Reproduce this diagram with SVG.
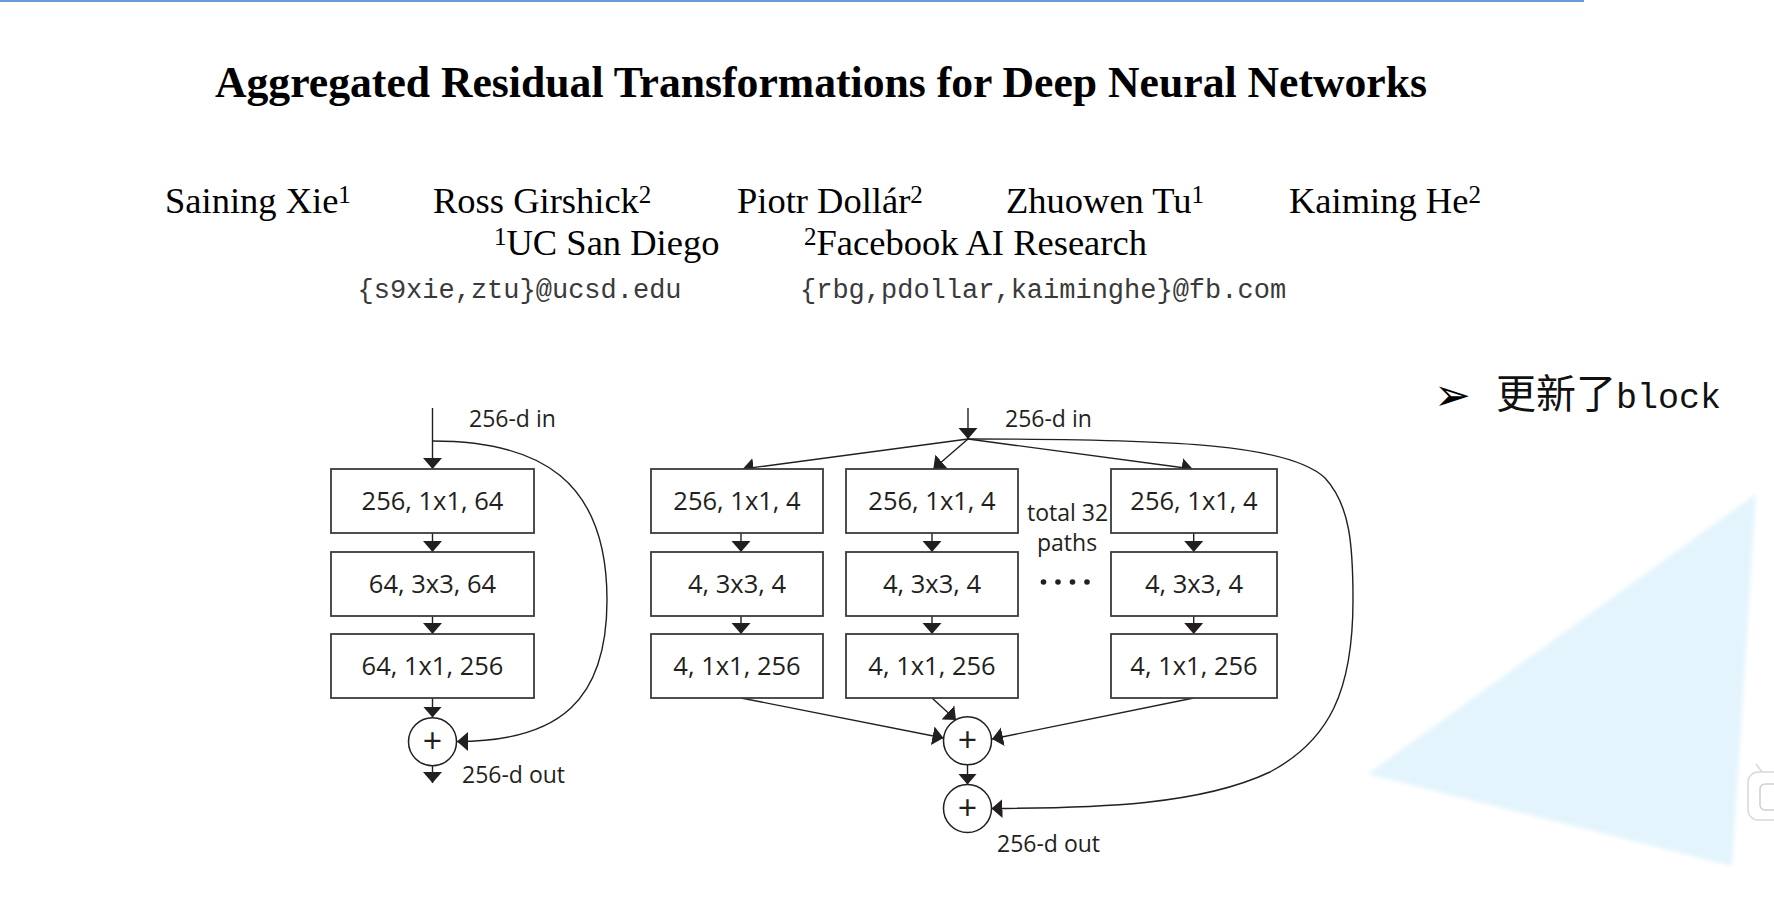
<svg xmlns="http://www.w3.org/2000/svg" width="1774" height="916" viewBox="0 0 1774 916">
<style>
.ser{font-family:"Liberation Serif","Times New Roman",serif;fill:#000}
.mono{font-family:"Liberation Mono","Courier New",monospace;font-size:27px;fill:#3a3a3a}
.lbl{font-family:"Open Sans","Noto Sans",sans-serif;font-size:23px;fill:#231f20}
.bt{font-family:"Open Sans","Noto Sans",sans-serif;font-size:25.5px;fill:#231f20;text-anchor:middle}
.box{fill:#fff;stroke:#3b3b3b;stroke-width:1.8}
.sum{fill:#fff;stroke:#231f20;stroke-width:1.5}
.plus{font-family:"Open Sans","Noto Sans",sans-serif;font-size:34px;fill:#231f20;text-anchor:middle}
.con{fill:none;stroke:#231f20;stroke-width:1.4;marker-end:url(#ah)}
</style>
<defs>
<marker id="ah" viewBox="-11 -10 12 20" markerWidth="12" markerHeight="20" refX="0" refY="0" orient="auto" markerUnits="userSpaceOnUse">
<path d="M0,0 L-11,-9.5 L-11,9.5 Z" fill="#231f20"/>
</marker>
<filter id="soft" x="-5%" y="-5%" width="110%" height="110%"><feGaussianBlur stdDeviation="2"/></filter>
</defs>
<rect width="1774" height="916" fill="#fff"/>
<line x1="0" y1="1" x2="1584" y2="1" stroke="#6b9ad8" stroke-width="2"/>
<polygon points="1756,494 1368,774 1732,866" fill="#e3f4fd" filter="url(#soft)"/>
<g id="corner-icon">
<rect x="1748" y="772" width="50" height="48" rx="10" fill="#fff" stroke="#d9d9d9" stroke-width="1.5"/>
<rect x="1760" y="784" width="30" height="26" rx="5" fill="none" stroke="#cfcfcf" stroke-width="1.5"/>
<line x1="1762" y1="772" x2="1756" y2="764" stroke="#d9d9d9" stroke-width="1.5"/>
</g>

<g id="header">
<text class="ser" x="215" y="97" font-size="45" font-weight="bold" textLength="1212" lengthAdjust="spacingAndGlyphs">Aggregated Residual Transformations for Deep Neural Networks</text>
<g font-size="36.5">
<text class="ser" x="165" y="213">Saining Xie<tspan font-size="25" dy="-10">1</tspan></text>
<text class="ser" x="433" y="213">Ross Girshick<tspan font-size="25" dy="-10">2</tspan></text>
<text class="ser" x="737" y="213">Piotr Dollár<tspan font-size="25" dy="-10">2</tspan></text>
<text class="ser" x="1006" y="213">Zhuowen Tu<tspan font-size="25" dy="-10">1</tspan></text>
<text class="ser" x="1289" y="213">Kaiming He<tspan font-size="25" dy="-10">2</tspan></text>
<text class="ser" x="494" y="255"><tspan font-size="25" dy="-10">1</tspan><tspan dy="10">UC San Diego</tspan></text>
<text class="ser" x="804" y="255"><tspan font-size="25" dy="-10">2</tspan><tspan dy="10">Facebook AI Research</tspan></text>
</g>
<text class="mono" x="357.5" y="298">{s9xie,ztu}@ucsd.edu</text>
<text class="mono" x="800" y="298">{rbg,pdollar,kaiminghe}@fb.com</text>
</g>

<g id="bullet">
<text x="1434" y="410" font-family="DejaVu Sans,sans-serif" font-size="44" fill="#000">➢</text>
<text x="1496" y="408" font-family="Noto Sans CJK SC,sans-serif" font-size="40" fill="#111">更新了<tspan font-family="Liberation Mono,monospace" font-size="35">block</tspan></text>
</g>

<g id="connectors">
<path class="con" d="M432.5,408 V469"/>
<path class="con" d="M432.5,533 V552"/>
<path class="con" d="M432.5,616 V634"/>
<path class="con" d="M432.5,698 V717.5"/>
<path class="con" d="M432.5,766 V783"/>
<path class="con" d="M432.5,441 C540,441 607,480 607,600 C607,700 560,741.5 457,741.5"/>

<path class="con" d="M968,408 V439"/>
<path class="con" d="M968,439 L742.7,469"/>
<path class="con" d="M968,439 L933.3,469"/>
<path class="con" d="M968,439 L1192.7,469"/>
<path class="con" d="M741,533 V552"/>
<path class="con" d="M741,616 V634"/>
<path class="con" d="M932,533 V552"/>
<path class="con" d="M932,616 V634"/>
<path class="con" d="M1193.7,533 V552"/>
<path class="con" d="M1193.7,616 V634"/>
<path class="con" d="M741,698 L943.5,738"/>
<path class="con" d="M932,698 L956,720"/>
<path class="con" d="M1193.7,698 L992,739"/>
<path class="con" d="M967.5,765 V784.5"/>
<path class="con" d="M968,439 C1180,439 1290,445 1325,478 C1350,505 1353,545 1353,600 C1353,690 1330,740 1270,772 C1200,805 1100,808 991.5,808.5"/>
</g>

<g id="left-in"><text class="lbl" x="469" y="427">256-d in</text></g>
<g id="left-b1"><rect class="box" x="331" y="469" width="203" height="64"/><text class="bt" x="432.5" y="510">256, 1x1, 64</text></g>
<g id="left-b2"><rect class="box" x="331" y="552" width="203" height="64"/><text class="bt" x="432.5" y="593">64, 3x3, 64</text></g>
<g id="left-b3"><rect class="box" x="331" y="634" width="203" height="64"/><text class="bt" x="432.5" y="675">64, 1x1, 256</text></g>
<g id="left-sum"><circle class="sum" cx="432.5" cy="741.7" r="24"/><text class="plus" x="432.5" y="753">+</text></g>
<g id="left-out"><text class="lbl" x="462" y="783">256-d out</text></g>

<g id="right-in"><text class="lbl" x="1005" y="427">256-d in</text></g>
<g id="a1"><rect class="box" x="651" y="469" width="172" height="64"/><text class="bt" x="737" y="510">256, 1x1, 4</text></g>
<g id="a2"><rect class="box" x="651" y="552" width="172" height="64"/><text class="bt" x="737" y="593">4, 3x3, 4</text></g>
<g id="a3"><rect class="box" x="651" y="634" width="172" height="64"/><text class="bt" x="737" y="675">4, 1x1, 256</text></g>
<g id="b1"><rect class="box" x="846" y="469" width="172" height="64"/><text class="bt" x="932" y="510">256, 1x1, 4</text></g>
<g id="b2"><rect class="box" x="846" y="552" width="172" height="64"/><text class="bt" x="932" y="593">4, 3x3, 4</text></g>
<g id="b3"><rect class="box" x="846" y="634" width="172" height="64"/><text class="bt" x="932" y="675">4, 1x1, 256</text></g>
<g id="c1"><rect class="box" x="1111" y="469" width="166" height="64"/><text class="bt" x="1194" y="510">256, 1x1, 4</text></g>
<g id="c2"><rect class="box" x="1111" y="552" width="166" height="64"/><text class="bt" x="1194" y="593">4, 3x3, 4</text></g>
<g id="c3"><rect class="box" x="1111" y="634" width="166" height="64"/><text class="bt" x="1194" y="675">4, 1x1, 256</text></g>
<g id="paths-note">
<text class="lbl" font-size="20.5"><tspan x="1027" y="521">total 32</tspan><tspan x="1037" y="551">paths</tspan></text>
<circle cx="1043.5" cy="582" r="2.8" fill="#231f20"/>
<circle cx="1058" cy="582" r="2.8" fill="#231f20"/>
<circle cx="1072.5" cy="582" r="2.8" fill="#231f20"/>
<circle cx="1087" cy="582" r="2.8" fill="#231f20"/>
</g>
<g id="right-sum1"><circle class="sum" cx="967.5" cy="740.8" r="24"/><text class="plus" x="967.5" y="752">+</text></g>
<g id="right-sum2"><circle class="sum" cx="967.5" cy="808.5" r="24"/><text class="plus" x="967.5" y="820">+</text></g>
<g id="right-out"><text class="lbl" x="997" y="852">256-d out</text></g>
</svg>
